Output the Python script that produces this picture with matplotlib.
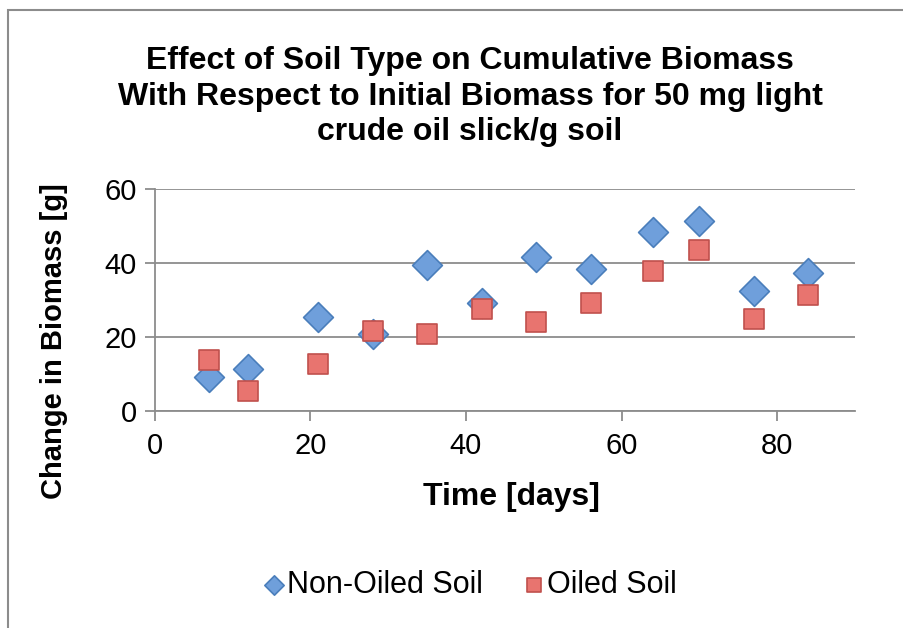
import matplotlib.pyplot as plt
from matplotlib.patches import Rectangle

plt.rcParams['font.family'] = ['Liberation Sans', 'DejaVu Sans']

# data
days = [7, 12, 21, 28, 35, 42, 49, 56, 64, 70, 77, 84]
non_oiled = [9.0, 11.4, 25.3, 20.7, 39.5, 29.2, 41.7, 38.3, 48.4, 51.4, 32.4, 37.3]
oiled = [13.7, 5.4, 12.7, 21.5, 20.8, 27.6, 24.1, 29.2, 37.9, 43.5, 24.9, 31.4]

x_ticks = [0, 20, 40, 60, 80]
y_ticks = [0, 20, 40, 60]

fig = plt.figure(figsize=(9.04, 6.28), dpi=100)
ax = fig.add_axes([0.171, 0.346, 0.775, 0.353])

grid_c = '#8c8c8c'
ax.scatter(days, non_oiled, marker='D', s=230, color='#6f9fdb', edgecolors='#4a7ebb',
           linewidths=1.2, zorder=3, label='Non-Oiled Soil')
ax.scatter(days, oiled, marker='s', s=210, color='#e8746f', edgecolors='#c0504d',
           linewidths=1.2, zorder=3, label='Oiled Soil')

ax.set_xlim(0, 90)
ax.set_ylim(0, 60)
ax.set_xticks(x_ticks)
ax.set_yticks(y_ticks)
ax.yaxis.grid(True, color=grid_c, linewidth=1.3)
ax.set_axisbelow(True)
for s in ['top', 'right']:
    ax.spines[s].set_visible(False)
for s in ['left', 'bottom']:
    ax.spines[s].set_color(grid_c)
    ax.spines[s].set_linewidth(1.3)
ax.tick_params(axis='both', colors=grid_c, width=1.3, length=7, labelsize=21,
               labelcolor='black')
ax.tick_params(axis='x', pad=8)
ax.tick_params(axis='y', pad=6)

ax.set_xlabel('Time [days]', fontsize=23, fontweight='bold')
ax.set_ylabel('Change in Biomass [g]', fontsize=21, fontweight='bold')
ax.xaxis.set_label_coords(0.51, -0.39)
ax.yaxis.set_label_coords(-0.143, 0.315)
ax.xaxis.label.set_va('center')
ax.yaxis.label.set_va('center')

fig.text(0.52, 0.927, 'Effect of Soil Type on Cumulative Biomass\n'
         'With Respect to Initial Biomass for 50 mg light\n'
         'crude oil slick/g soil', ha='center', va='top', fontsize=23,
         fontweight='bold', linespacing=1.25)

fig.legend(loc='center', bbox_to_anchor=(0.52, 0.068), ncol=2, frameon=False,
           fontsize=22, handlelength=0.7, handletextpad=0.1, columnspacing=1.3,
           markerscale=0.65)

# chart area border (cropped on right/bottom)
fig.patches.append(Rectangle((8 / 904, -0.1), 1.2, 1.1 - 10 / 628, transform=fig.transFigure,
                             fill=False, edgecolor=grid_c, linewidth=1.5))

fig.savefig('out.png', dpi=100)
